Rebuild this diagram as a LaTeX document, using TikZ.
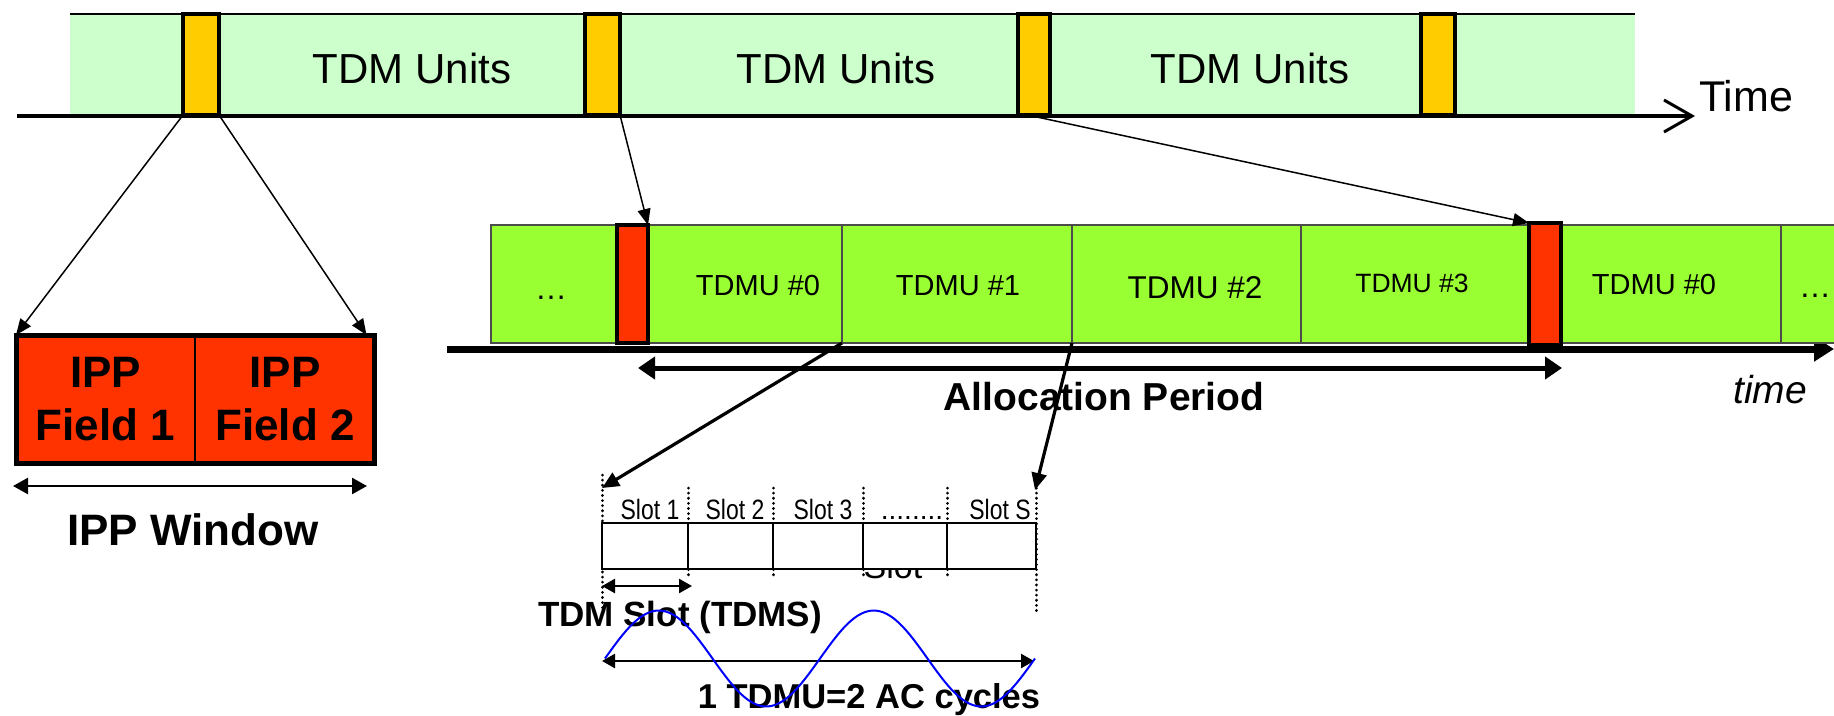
\documentclass[tikz,border=0pt]{standalone}
\usepackage{fontspec}
\setmainfont{Liberation Sans}
\usetikzlibrary{arrows.meta,calc}
\definecolor{lgreen}{RGB}{204,255,204}
\definecolor{ygold}{RGB}{255,204,0}
\definecolor{ipred}{RGB}{255,51,0}
\definecolor{tgreen}{RGB}{153,255,51}
\newcommand\fsz[1]{\fontsize{#1}{#1}\selectfont}
\begin{document}
\begin{tikzpicture}[x=1pt,y=-1pt,
  ybox/.style={draw=black, line width=3.5pt, fill=ygold, inner sep=0pt, outer sep=0pt, minimum height=101pt},
  cell/.style={draw=black!70, line width=1.2pt, fill=tgreen, inner sep=0pt, outer sep=0pt, minimum height=118pt},
  rbox/.style={draw=black, line width=4.5pt, fill=ipred, inner sep=0pt, outer sep=0pt},
  ippf/.style={draw=black, line width=1.5pt, fill=ipred, inner sep=0pt, outer sep=0pt, minimum height=128pt, minimum width=179pt, align=center, font=\fsz{44}\bfseries, text depth=0pt},
  slotc/.style={draw=black, line width=2.8pt, fill=white, inner sep=0pt, outer sep=0pt, minimum height=46pt},
  slab/.style={inner sep=0pt, anchor=base, font=\fsz{28}},
  thinarr/.style={line width=1.5pt, -{Triangle[length=16pt,width=13pt]}},
  thickarr/.style={line width=3.2pt, -{Triangle[length=17pt,width=15pt]}},
  dotline/.style={line width=3pt, line cap=round, dash pattern=on 0.1pt off 5pt},
  plain/.style={inner sep=0pt}
]
\useasboundingbox (0,0) rectangle (1834,715);

% ---------- top timeline ----------
\fill[lgreen] (70,14) rectangle (1635,115);
\draw[line width=2pt] (70,14) -- (1635,14);
\coordinate (ta) at (17,116);
\coordinate (tb) at (1695,116);
\draw[line width=4pt, -{Straight Barb[length=28pt,width=32pt,line width=3pt]}] (ta) -- (tb);
\node[plain, font=\fsz{43}] (time) at (1746,96) {Time};

\node[ybox, minimum width=36pt] (y1) at (201,64.5) {};
\node[ybox, minimum width=35pt] (y2) at (602.5,64.5) {};
\node[ybox, minimum width=32pt] (y3) at (1034,64.5) {};
\node[ybox, minimum width=34pt] (y4) at (1438,64.5) {};

\node[plain, font=\fsz{42}] (u1) at (412,68) {TDM Units};
\node[plain, font=\fsz{42}] (u2) at (836,68) {TDM Units};
\node[plain, font=\fsz{42}] (u3) at (1250,68) {TDM Units};

% ---------- second timeline ----------
\coordinate (sa) at (447,349);
\coordinate (sb) at (1834,349);
\draw[line width=7pt, -{Triangle[length=20pt,width=24pt]}] (sa) -- (sb);

\node[cell, minimum width=141pt] (ca) at (561.5,284) {};
\node[cell, minimum width=210pt] (c0) at (737,284) {};
\node[cell, minimum width=230pt] (c1) at (957,284) {};
\node[cell, minimum width=229pt] (c2) at (1186.5,284) {};
\node[cell, minimum width=244pt] (c3) at (1423,284) {};
\node[cell, minimum width=236pt] (c4) at (1663,284) {};
\node[cell, minimum width=89pt] (cb) at (1825.5,284) {};

\node[rbox, minimum width=31pt, minimum height=118pt] (r1) at (632.5,284) {};
\node[rbox, minimum width=32pt, minimum height=122pt] (r2) at (1545,284) {};

\node[plain, font=\fsz{32}] (da) at (551,298) {…};
\node[plain, font=\fsz{29}] (l0) at (758,286) {TDMU \#0};
\node[plain, font=\fsz{29}] (l1) at (958,286) {TDMU \#1};
\node[plain, font=\fsz{31.5}] (l2) at (1195,288) {TDMU \#2};
\node[plain, font=\fsz{26.5}] (l3) at (1412,283) {TDMU \#3};
\node[plain, font=\fsz{29}] (l4) at (1654,285) {TDMU \#0};
\node[plain, font=\fsz{32}] (db) at (1815,296) {…};

\coordinate (apl) at (638,368);
\coordinate (apr) at (1562,368);
\draw[line width=5pt, {Triangle[length=17pt,width=22pt]}-{Triangle[length=17pt,width=22pt]}] (apl) -- (apr);
\node[plain, font=\fsz{39}\bfseries] (ap) at (1104,397) {Allocation Period};
\node[plain, font=\fsz{39}\itshape] (tm) at (1770,390) {time};

% ---------- IPP window ----------
\node[ippf] (f1) at (105.5,399) {IPP\\[9pt]Field 1};
\node[ippf] (f2) at (285,399) {IPP\\[9pt]Field 2};
\draw[line width=5pt] (f1.north west) rectangle (f2.south east);
\coordinate (iwl) at (13,486);
\coordinate (iwr) at (367,486);
\draw[line width=2.5pt, {Triangle[length=15pt,width=16pt]}-{Triangle[length=15pt,width=16pt]}] (iwl) -- (iwr);
\node[plain, font=\fsz{44}\bfseries] (iw) at (193,530) {IPP Window};

% ---------- top connectors ----------
\draw[thinarr] (y1.south west) -- (f1.north west);
\draw[thinarr] (y1.south east) -- ($(f2.north east)+(-8,0)$);
\draw[thinarr] (y2.south east) -- (r1.north east);
\draw[thinarr] ($(y3.south west)!0.3!(y3.south east)$) -- (r2.north west);

% ---------- slot detail ----------
\node[plain, font=\fsz{34}, anchor=base] (hid) at (893,578) {Slot};
\coordinate (dl) at (602,475);
\coordinate (dlb) at (602,610);
\coordinate (dr) at (1036,488);
\coordinate (drb) at (1036,612);
\draw[dotline] (dl) -- (dlb);
\draw[dotline] (dr) -- (drb);
\foreach \xx in {688,773,863,947} {\draw[dotline] (\xx,488) -- (\xx,576);}

\node[slotc, minimum width=86pt] (s1) at (645,546) {};
\node[slotc, minimum width=85pt] (s2) at (730.5,546) {};
\node[slotc, minimum width=90pt] (s3) at (818,546) {};
\node[slotc, minimum width=84pt] (s4) at (905,546) {};
\node[slotc, minimum width=89pt] (s5) at (991.5,546) {};

\node[slab] (t1) at (650,519) {\scalebox{0.82}[1]{Slot 1}};
\node[slab] (t2) at (735,519) {\scalebox{0.82}[1]{Slot 2}};
\node[slab] (t3) at (823,519) {\scalebox{0.82}[1]{Slot 3}};
\node[slab] (t4) at (912,519) {........};
\node[slab] (t5) at (1000,519) {\scalebox{0.82}[1]{Slot S}};

\coordinate (tsl) at (602,586);
\coordinate (tsr) at (692,586);
\draw[line width=2.5pt, {Triangle[length=13pt,width=14pt]}-{Triangle[length=13pt,width=14pt]}] (tsl) -- (tsr);
\node[plain, font=\fsz{35}\bfseries] (tds) at (680,617) {TDM Slot (TDMS)};

\coordinate (cyl) at (602,661);
\coordinate (cyr) at (1034,661);
\draw[line width=2.5pt, {Triangle[length=13pt,width=14pt]}-{Triangle[length=13pt,width=14pt]}] (cyl) -- (cyr);
\node[plain, font=\fsz{34.5}\bfseries] (cyc) at (869,700) {1 TDMU=2 AC cycles};

\draw[blue, line width=2pt] plot[domain=605:1035, samples=120, smooth] (\x, {658.5 - 48*sin(1.67442*(\x-605))});

% ---------- lower connectors ----------
\coordinate (slt) at (602,488);
\coordinate (srt) at (1035,490);
\draw[thickarr] (c0.south east) -- (slt);
\draw[thickarr] (c1.south east) -- (srt);
\end{tikzpicture}
\end{document}
